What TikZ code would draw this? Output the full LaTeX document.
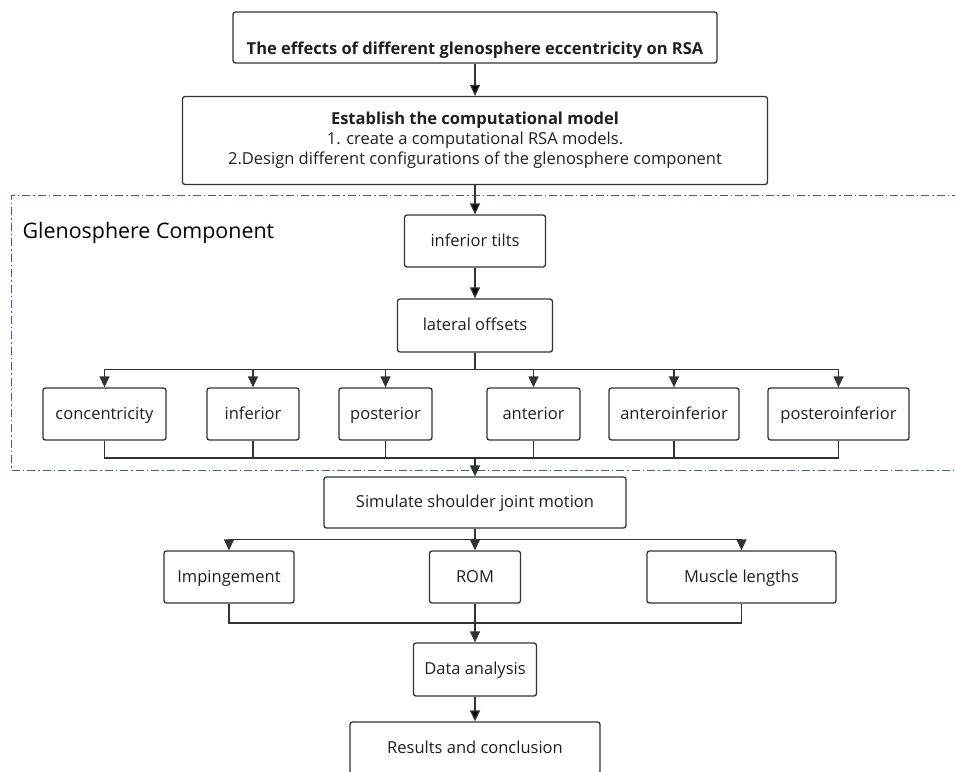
\documentclass[tikz,border=0pt]{standalone}
\usepackage{fontspec}
\setmainfont{Open Sans}
\usetikzlibrary{arrows.meta}
\definecolor{linegray}{HTML}{333333}
\definecolor{dashblue}{HTML}{3B5E9C}

\begin{document}
\begin{tikzpicture}[x=1pt,y=-1pt,>={Triangle[length=11pt,width=10pt]},line width=1.3pt]
            \tikzset{box/.style={draw=linegray, rounded corners=2.5pt, inner sep=0pt, align=center,
                font=\fontsize{16.5}{20}\selectfont, text=black!88, minimum height=52pt}}
            \tikzset{cell/.style={box, text height=13.5pt, text depth=3pt}}
            \tikzset{link/.style={draw=linegray, line width=1.3pt}}
            \useasboundingbox (0,0) rectangle (955,771);
            \clip (0,0) rectangle (955,771);
            % frame round the glenosphere part
            \draw[dashblue, line width=1pt, dash pattern=on 8pt off 3pt on 1.5pt off 3pt]
                (960,195) -- (11,195) -- (11,470) -- (960,470);
            \node[anchor=west, inner sep=0pt, font=\fontsize{21.4}{26}\selectfont] (gc) at (22,233) {Glenosphere Component};
            % main column
            \node[box, minimum width=484pt, minimum height=0pt, text height=42pt, text depth=9pt, font=\bfseries\fontsize{16.5}{20}\selectfont] (T) at (475,37.5) {The effects of different glenosphere eccentricity on RSA};
            \node[box, minimum width=585pt, minimum height=88pt] (M) at (475,140.5) {\textbf{Establish the computational model}\\1. create a computational RSA models.\\2.Design different configurations of the glenosphere component};
            \node[cell, minimum width=141pt] (IT) at (475,241) {inferior tilts};
            \node[cell, minimum width=155pt, minimum height=53pt] (LO) at (475,325.5) {lateral offsets};
            % offsets
            \node[cell, minimum width=123pt] (C1) at (104.5,414) {concentricity};
            \node[cell, minimum width=92pt] (C2) at (253,414) {inferior};
            \node[cell, minimum width=93pt] (C3) at (385.5,414) {posterior};
            \node[cell, minimum width=93pt] (C4) at (533.5,414) {anterior};
            \node[cell, minimum width=130pt] (C5) at (674,414) {anteroinferior};
            \node[cell, minimum width=141pt] (C6) at (838.5,414) {posteroinferior};
            \node[cell, minimum width=302pt, minimum height=51pt] (S) at (475,502.5) {Simulate shoulder joint motion};
            \node[cell, minimum width=130pt] (I) at (229,577) {Impingement};
            \node[cell, minimum width=91pt] (R) at (475,577) {ROM};
            \node[cell, minimum width=189pt] (ML) at (741.5,577) {Muscle lengths};
            \node[cell, minimum width=123pt, minimum height=53pt] (D) at (475,669.5) {Data analysis};
            \node[cell, minimum width=250pt] (RC) at (475,748) {Results and conclusion};
            \coordinate (J1) at (475,458);
            \coordinate (J2) at (475,623);
            \path[link,->] (T) edge (M);
            \path[link,->] (M) edge (IT);
            \path[link,->] (IT) edge (LO);
            \draw[link,->] (LO.south) -- ++(0,17) -| (C1.north);
            \draw[link,->] (LO.south) -- ++(0,17) -| (C2.north);
            \draw[link,->] (LO.south) -- ++(0,17) -| (C3.north);
            \draw[link,->] (LO.south) -- ++(0,17) -| (C4.north);
            \draw[link,->] (LO.south) -- ++(0,17) -| (C5.north);
            \draw[link,->] (LO.south) -- ++(0,17) -| (C6.north);
            \draw[link] (C1.south) |- (J1);
            \draw[link] (C2.south) |- (J1);
            \draw[link] (C3.south) |- (J1);
            \draw[link] (C4.south) |- (J1);
            \draw[link] (C5.south) |- (J1);
            \draw[link] (C6.south) |- (J1);
            \draw[link,->] (J1) -- (S.north);
            \draw[link,->] (S.south) -- ++(0,11) -| (I.north);
            \draw[link,->] (S.south) -- ++(0,11) -| (R.north);
            \draw[link,->] (S.south) -- ++(0,11) -| (ML.north);
            \draw[link] (I.south) |- (J2);
            \draw[link] (ML.south) |- (J2);
            \draw[link,->] (R.south) -- (D.north);
            \path[link,->] (D) edge (RC);
        \end{tikzpicture}
\end{document}
